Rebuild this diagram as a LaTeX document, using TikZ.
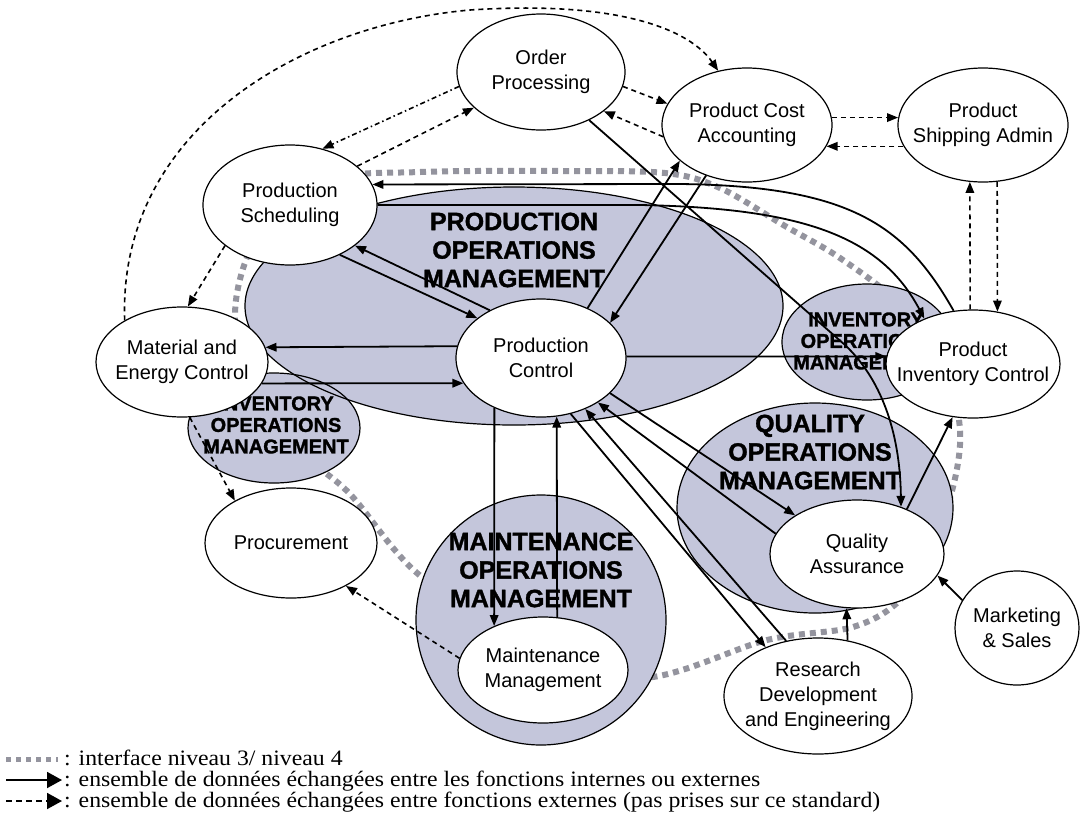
\documentclass[tikz,border=0pt]{standalone}
\usepackage{fontspec}
\setmainfont{Liberation Sans}
\newfontfamily\legendfont[FakeStretch=1.08]{Liberation Serif}
\newfontfamily\heavyfont[FakeBold=1.4]{Liberation Sans Bold}
\usetikzlibrary{arrows.meta,shapes.geometric}
\definecolor{opfill}{RGB}{196,198,219}
\definecolor{ifgray}{RGB}{148,148,158}
\begin{document}
\begin{tikzpicture}[x=1pt,y=-1pt,
  fnode/.style={ellipse, draw=black, line width=1.2pt, fill=white, inner sep=0pt},
  lbl/.style={align=center, inner sep=0pt, font=\fontsize{20}{25}\selectfont},
  opreg/.style={ellipse, fill=opfill, inner sep=0pt},
  opline/.style={draw=black, line width=1.2pt},
  optext/.style={align=center, inner sep=0pt, font=\heavyfont\bfseries\fontsize{25}{28.5}\selectfont},
  optexts/.style={align=center, inner sep=0pt, font=\heavyfont\bfseries\fontsize{20}{21.5}\selectfont},
  arr/.style={line width=1.8pt, -{Triangle[length=11pt,width=8.5pt]}},
  darr/.style={arr, line width=1.6pt, dash pattern=on 5pt off 4pt},
  ddarr/.style={arr, line width=1.6pt, dash pattern=on 5pt off 3pt on 1.5pt off 3pt},
  iface/.style={draw=ifgray, line width=6pt, dash pattern=on 6pt off 5pt},
  legtext/.style={inner sep=0pt, anchor=base west, font=\legendfont\fontsize{22}{24}\selectfont}
]
\useasboundingbox (0,0) rectangle (1092,815);
\fill[white] (0,0) rectangle (1092,815);

% interface level 3 / level 4 boundary
\draw[iface] plot[smooth cycle, tension=0.55] coordinates {
 (236,300) (262,230) (330,180) (420,172) (560,171) (665,173) (720,188)
 (785,226) (840,258) (900,305) (945,370) (960,430) (953,487) (930,550)
 (900,600) (853,627) (767,640) (640,678) (520,640) (417,573) (350,494)
 (300,450) (245,370)};

% operations management regions
\node[opreg, minimum width=538pt, minimum height=238pt] (POM) at (514,306) {};
\node[opreg, minimum width=172pt, minimum height=110pt] (IOML) at (274,428) {};
\node[opreg, minimum width=170pt, minimum height=116pt] (IOMR) at (867,342) {};
\node[opreg, minimum width=276pt, minimum height=210pt] (QOM) at (815,508) {};
\node[opreg, minimum width=250pt, minimum height=250pt] (MOM) at (541,620) {};
\draw[opline] (POM.center) ellipse [x radius=269, y radius=119];
\draw[opline] (IOML.center) ellipse [x radius=86, y radius=55];
\draw[opline] (IOMR.center) ellipse [x radius=85, y radius=58];
\draw[opline] (QOM.center) ellipse [x radius=138, y radius=105];
\draw[opline] (MOM.center) ellipse [x radius=125, y radius=125];

\node[optext] (tPOM) at (514,250) {PRODUCTION\\OPERATIONS\\MANAGEMENT};
\node[optexts] (tIOML) at (276,425) {INVENTORY\\OPERATIONS\\MANAGEMENT};
\node[optexts] (tIOMR) at (866,341) {INVENTORY\\OPERATIONS\\MANAGEMENT};
\node[optext] (tQOM) at (810,452) {QUALITY\\OPERATIONS\\MANAGEMENT};
\node[optext] (tMOM) at (541,570) {MAINTENANCE\\OPERATIONS\\MANAGEMENT};

% functions
\node[fnode, minimum width=168pt, minimum height=116pt, label={[lbl]center:Order\\Processing}] (OP) at (541,72) {};
\node[fnode, minimum width=170pt, minimum height=114pt, label={[lbl]center:Product Cost\\Accounting}] (PCA) at (747,125) {};
\node[fnode, minimum width=170pt, minimum height=114pt, label={[lbl]center:Product\\Shipping Admin}] (PSA) at (983,125) {};
\node[fnode, minimum width=174pt, minimum height=120pt, label={[lbl]center:Production\\Scheduling}] (PS) at (290,205) {};
\node[fnode, minimum width=172pt, minimum height=110pt, label={[lbl]center:Material and\\Energy Control}] (MEC) at (182,362) {};
\node[fnode, minimum width=170pt, minimum height=118pt, label={[lbl]center:Production\\Control}] (PC) at (541,358) {};
\node[fnode, minimum width=174pt, minimum height=108pt, label={[lbl]center:Product\\Inventory Control}] (PIC) at (973,364) {};
\node[fnode, minimum width=172pt, minimum height=110pt, label={[lbl]center:Procurement}] (Proc) at (291,543) {};
\node[fnode, minimum width=174pt, minimum height=108pt, label={[lbl]center:Quality\\Assurance}] (QA) at (857,554) {};
\node[fnode, minimum width=170pt, minimum height=106pt, label={[lbl]center:Maintenance\\Management}] (MM) at (543,670) {};
\node[fnode, minimum width=188pt, minimum height=116pt, label={[lbl]center:Research\\Development\\and Engineering}] (RDE) at (818,696) {};
\node[fnode, minimum width=124pt, minimum height=114pt, label={[lbl]center:Marketing\\\& Sales}] (MS) at (1017,628) {};

% dashed exchanges with external functions
\draw[darr] (MEC.144) .. controls (118,130) and (300,25) .. (470,10) .. controls (620,0) and (690,30) .. (PCA.118);
\draw[ddarr] (OP.190) -- (PS.60);
\draw[darr] (PS.30) -- (OP.208);
\draw[darr] (OP.350) -- (PCA.165);
\draw[darr] (PCA.188) -- (OP.328);
\draw[darr] (PCA.5) -- (PSA.175);
\draw[darr] (PSA.195) -- (PCA.345);
\draw[darr] (PIC.93) -- (PSA.257);
\draw[darr] (PSA.284) -- (PIC.65);
\draw[darr] (PS.212) -- (MEC.84);
\draw[darr] (MEC.278) -- (Proc.143);
\draw[darr] (MM.172) -- (Proc.322);

% solid exchanges
\draw[arr] (PIC.110) .. controls (905,225) and (850,186) .. (680,184) -- (PS.14);
\draw[arr] (PS.0) -- (640,205) .. controls (800,208) and (880,235) .. (PIC.137);
\draw[arr] (OP.315) -- (845,345) .. controls (880,378) and (900,430) .. (QA.47);
\draw[arr] (PC.47) -- (PCA.208);
\draw[arr] (PCA.231) -- (PC.27);
\draw[arr] (PS.315) -- (PC.148);
\draw[arr] (PC.137) -- (PS.328);
\draw[arr] (PC.172) -- (MEC.10);
\draw[arr] (MEC.-15) -- (PC.198);
\draw[arr] (PC.1) -- (PIC.175);
\draw[arr] (PC.227) -- (MM.138);
\draw[arr] (MM.75) -- (PC.285);
\draw[arr] (PC.333) -- (QA.148);
\draw[arr] (QA.166) -- (PC.322);
\draw[arr] (RDE.120) -- (PC.311);
\draw[arr] (PC.298) -- (RDE.137);
\draw[arr] (RDE.62) -- (QA.259);
\draw[arr] (QA.42) -- (PIC.249);
\draw[arr] (MS.153) -- (QA.345);

% legend
\coordinate (lg1a) at (6,759); \coordinate (lg1b) at (58,759);
\coordinate (lg2a) at (6,780); \coordinate (lg2b) at (62,780);
\coordinate (lg3a) at (6,801); \coordinate (lg3b) at (62,801);
\draw[iface, line width=5pt, dash pattern=on 5pt off 5pt] (lg1a) -- (lg1b);
\draw[line width=1.8pt, -{Triangle[length=15pt,width=16pt]}] (lg2a) -- (lg2b);
\draw[line width=1.8pt, dash pattern=on 6pt off 4pt, -{Triangle[length=15pt,width=16pt]}] (lg3a) -- (lg3b);
\node[legtext] (lt1) at (64,765) {: interface niveau 3/ niveau 4};
\node[legtext] (lt2) at (64,786) {: ensemble de données échangées entre les fonctions internes ou externes};
\node[legtext] (lt3) at (64,807) {: ensemble de données échangées entre fonctions externes (pas prises sur ce standard)};
\end{tikzpicture}
\end{document}
